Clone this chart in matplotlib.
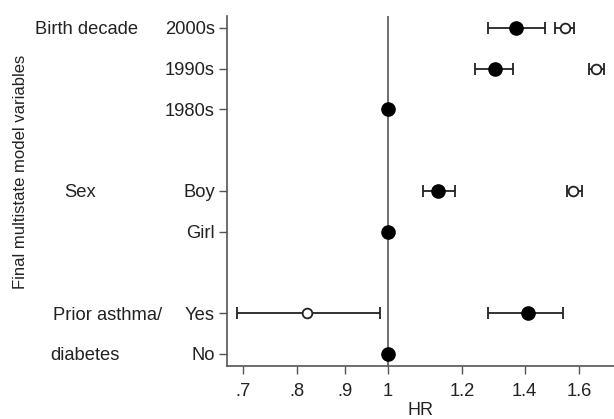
import numpy as np
import matplotlib
matplotlib.use("Agg")
import matplotlib.pyplot as plt
from matplotlib.ticker import FixedLocator, NullLocator, FixedFormatter

plt.rcParams['font.family'] = ['Liberation Sans', 'DejaVu Sans']

# --------------------------------------------------
# Data
# --------------------------------------------------

row_labels = ["2000s", "1990s", "1980s", "Boy", "Girl", "Yes", "No"]
row_pos = [8, 7, 6, 4, 3, 1, 0]

groups = ["Birth decade", "Sex", "Prior asthma/", "diabetes"]
group_pos = [8, 4, 1, 0]

# filled markers (with reference categories at 1)
filled_hr = [1.37, 1.30, 1.0, 1.13, 1.0, 1.41, 1.0]
filled_lo = [1.28, 1.24, None, 1.09, None, 1.28, None]
filled_hi = [1.47, 1.36, None, 1.18, None, 1.54, None]

# hollow markers
open_hr = [1.545, 1.668, None, 1.577, None, 0.82, None]
open_lo = [1.51, 1.64, None, 1.552, None, 0.69, None]
open_hi = [1.58, 1.70, None, 1.61, None, 0.98, None]

xticks = [0.7, 0.8, 0.9, 1.0, 1.2, 1.4, 1.6]
xtick_labels = [".7", ".8", ".9", "1", "1.2", "1.4", "1.6"]

# --------------------------------------------------
# Plot
# --------------------------------------------------

fig, ax = plt.subplots(figsize=(6.14, 4.19), dpi=100)
fig.subplots_adjust(left=0.369, right=1.0, bottom=0.127, top=0.9625)

ax.set_xscale("log")
ax.set_xlim(0.672, 1.744)
ax.set_ylim(-0.29, 8.3)

ax.axvline(1.0, color="#555555", linewidth=1.2, zorder=1)

# error bars for filled
idx = [i for i in range(len(row_pos)) if filled_lo[i] is not None]
y = np.array([row_pos[i] for i in idx])
hr = np.array([filled_hr[i] for i in idx])
lo = np.array([filled_lo[i] for i in idx])
hi = np.array([filled_hi[i] for i in idx])
ax.errorbar(hr, y, xerr=[hr - lo, hi - hr], fmt="none",
            ecolor="#222222", elinewidth=1.3, capsize=4, capthick=1.3, zorder=2)

ax.plot(filled_hr, row_pos, "o", color="black", markersize=9.5, zorder=3)

# hollow markers
idx = [i for i in range(len(row_pos)) if open_hr[i] is not None]
y = np.array([row_pos[i] for i in idx])
hr = np.array([open_hr[i] for i in idx])
lo = np.array([open_lo[i] for i in idx])
hi = np.array([open_hi[i] for i in idx])
ax.errorbar(hr, y, xerr=[hr - lo, hi - hr], fmt="none",
            ecolor="#222222", elinewidth=1.3, capsize=4, capthick=1.3, zorder=2)
ax.plot(hr, y, "o", markerfacecolor="white", markeredgecolor="#222222",
        markeredgewidth=1.3, markersize=7, zorder=3)

# axes styling
for side in ["top", "right"]:
    ax.spines[side].set_visible(False)
for side in ["left", "bottom"]:
    ax.spines[side].set_color("#555555")
    ax.spines[side].set_linewidth(1.2)

ax.xaxis.set_major_locator(FixedLocator(xticks))
ax.xaxis.set_major_formatter(FixedFormatter(xtick_labels))
ax.xaxis.set_minor_locator(NullLocator())
ax.set_yticks(row_pos)
ax.set_yticklabels(row_labels)
ax.tick_params(axis="both", labelsize=13.2, length=5.5, width=1.0,
               color="#555555", labelcolor="#222222")
ax.tick_params(axis="x", pad=7)
ax.tick_params(axis="y", pad=3)

ax.set_xlabel("HR", fontsize=13, color="#222222", labelpad=1)
ax.set_ylabel("Final multistate model variables", fontsize=12, color="#222222")
ax.yaxis.set_label_coords(-0.512, 0.555)

ytrans = ax.get_yaxis_transform()
group_x = [-0.495, -0.42, -0.448, -0.456]
for g, gy, gx in zip(groups, group_pos, group_x):
    ax.text(gx, gy, g, transform=ytrans, fontsize=13.2, color="#222222",
            ha="left", va="center_baseline")

fig.savefig("out.png", dpi=100)
